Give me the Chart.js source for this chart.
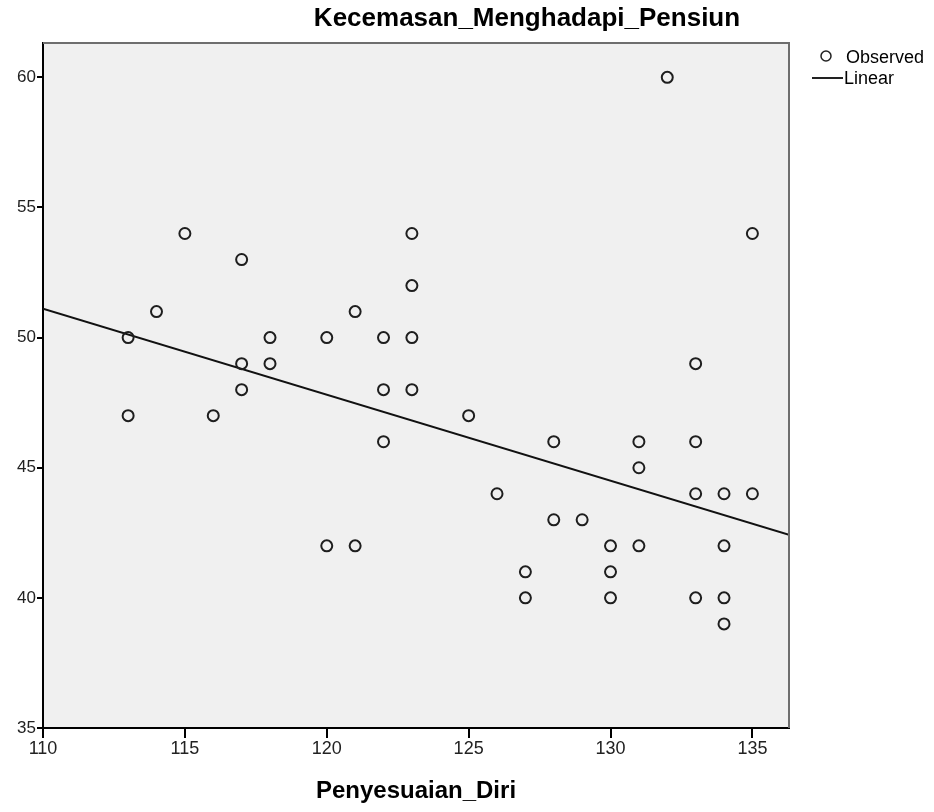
<!DOCTYPE html>
<html>
<head>
<meta charset="utf-8">
<script src="https://cdn.jsdelivr.net/npm/chart.js@4"></script>
<style>
  html, body { margin: 0; padding: 0; background: #fff; }
  #wrap { width: 934px; height: 812px; }
</style>
</head>
<body>
<div id="wrap"><canvas id="scatterChart" width="934" height="812"></canvas></div>
<script>
// --------------------------
// Data
// --------------------------
const obsX = [113, 113, 114, 115, 116, 117, 117, 117, 118, 118,
              120, 120, 121, 121, 122, 122, 122, 123, 123, 123,
              123, 125, 126, 127, 127, 128, 128, 129, 130, 130,
              130, 131, 131, 131, 132, 133, 133, 133, 133, 134,
              134, 134, 134, 135, 135];
const obsY = [50, 47, 51, 54, 47, 53, 49, 48, 50, 49,
              50, 42, 51, 42, 50, 48, 46, 54, 52, 50,
              48, 47, 44, 41, 40, 46, 43, 43, 42, 41,
              40, 46, 45, 42, 60, 49, 46, 44, 40, 44,
              42, 40, 39, 54, 44];

// linear fit line endpoints
const fitX = [110, 136.29];
const fitY = [51.11, 42.42];

const xTicks = [110, 115, 120, 125, 130, 135];
const yTicks = [35, 40, 45, 50, 55, 60];

const chartTitle = "Kecemasan_Menghadapi_Pensiun";
const xTitle = "Penyesuaian_Diri";
const legendLabels = ["Observed", "Linear"];

const FONT = "'Liberation Sans', Arial, sans-serif";

// --------------------------
// Plugins: background, frame, titles, legend
// --------------------------
const spssDecor = {
  id: "spssDecor",
  beforeDraw(chart) {
    const { ctx, chartArea: a } = chart;
    ctx.save();
    ctx.fillStyle = "#ffffff";
    ctx.fillRect(0, 0, chart.width, chart.height);
    ctx.fillStyle = "#f0f0f0";
    ctx.fillRect(a.left, a.top, a.right - a.left, a.bottom - a.top);
    ctx.restore();
  },
  afterDraw(chart) {
    const { ctx, chartArea: a } = chart;
    ctx.save();
    // top + right frame
    ctx.strokeStyle = "#6e6e6e";
    ctx.lineWidth = 2;
    ctx.beginPath();
    ctx.moveTo(a.left, a.top);
    ctx.lineTo(a.right, a.top);
    ctx.lineTo(a.right, a.bottom);
    ctx.stroke();

    // titles
    ctx.fillStyle = "#000";
    ctx.textAlign = "center";
    ctx.textBaseline = "middle";
    ctx.font = "bold 26px " + FONT;
    ctx.fillText(chartTitle, 527, 19);
    ctx.font = "bold 24px " + FONT;
    ctx.fillText(xTitle, (a.left + a.right) / 2, 791);

    // legend
    ctx.font = "18px " + FONT;
    ctx.textAlign = "left";
    ctx.strokeStyle = "#222";
    ctx.lineWidth = 1.5;
    ctx.beginPath();
    ctx.arc(826, 56, 5, 0, Math.PI * 2);
    ctx.stroke();
    ctx.fillText(legendLabels[0], 846, 58);
    ctx.lineWidth = 2;
    ctx.beginPath();
    ctx.moveTo(812, 78);
    ctx.lineTo(843, 78);
    ctx.stroke();
    ctx.fillText(legendLabels[1], 844, 79);
    ctx.restore();
  },
};

// --------------------------
// Chart
// --------------------------
const scatterChart = new Chart(document.getElementById("scatterChart"), {
  type: "scatter",
  data: {
    datasets: [
      {
        label: legendLabels[0],
        data: obsX.map((x, i) => ({ x: x, y: obsY[i] })),
        pointStyle: "circle",
        pointRadius: 5.5,
        pointBorderWidth: 2,
        pointBorderColor: "#1e1e1e",
        pointBackgroundColor: "rgba(0,0,0,0)",
        order: 1,
      },
      {
        label: legendLabels[1],
        type: "line",
        data: fitX.map((x, i) => ({ x: x, y: fitY[i] })),
        borderColor: "#111",
        borderWidth: 2,
        pointRadius: 0,
        fill: false,
        order: 2,
      },
    ],
  },
  options: {
    responsive: false,
    animation: false,
    events: [],
    layout: { padding: { top: 43, right: 145, bottom: 0, left: 0 } },
    plugins: {
      legend: { display: false },
      title: { display: false },
      tooltip: { enabled: false },
    },
    scales: {
      x: {
        type: "linear",
        min: 110,
        max: 136.29,
        afterFit: (s) => { s.height = 84; },
        afterBuildTicks: (s) => { s.ticks = xTicks.map((v) => ({ value: v })); },
        border: { display: true, color: "#000", width: 2 },
        grid: { drawOnChartArea: false, tickLength: 10, tickColor: "#000", lineWidth: 2 },
        ticks: { font: { family: FONT, size: 18 }, color: "#222", padding: 0, maxRotation: 0 },
      },
      y: {
        type: "linear",
        min: 35,
        max: 61.32,
        afterFit: (s) => { s.width = 43; },
        afterBuildTicks: (s) => { s.ticks = yTicks.map((v) => ({ value: v })); },
        border: { display: true, color: "#000", width: 2 },
        grid: { drawOnChartArea: false, tickLength: 6, tickColor: "#000", lineWidth: 2 },
        ticks: { font: { family: FONT, size: 17 }, color: "#222", padding: 1 },
      },
    },
  },
  plugins: [spssDecor],
});
</script>
</body>
</html>
